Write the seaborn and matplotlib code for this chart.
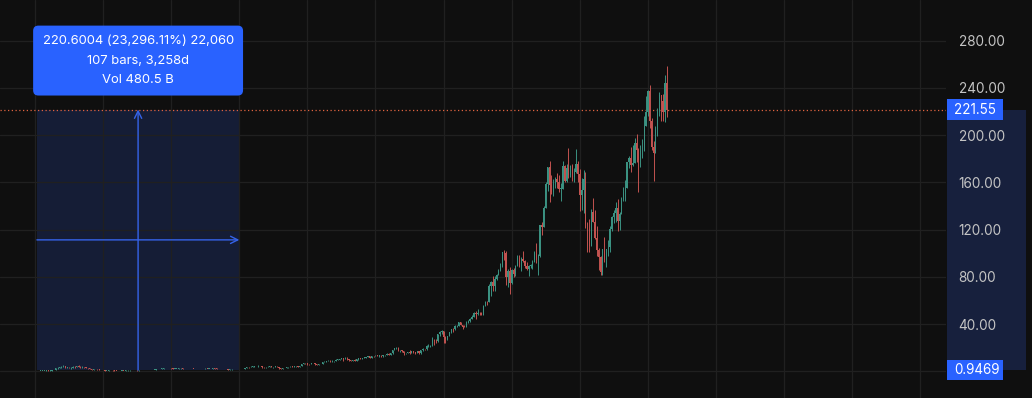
import numpy as np
import pandas as pd
import matplotlib
matplotlib.use("Agg")
import matplotlib.pyplot as plt
import seaborn as sns
from matplotlib.patches import Rectangle
from matplotlib.transforms import blended_transform_factory

# ---------------- data (monthly candles, May 1997 .. Nov 2025) ----------------
first_open = 0.08
close = [
    0.10, 0.10, 0.13, 0.17, 0.24, 0.23, 0.22, 0.25,                                  # 1997 May-Dec
    0.24, 0.30, 0.36, 0.40, 0.42, 0.61, 0.95, 0.62, 0.67, 0.81, 1.42, 2.68,          # 1998
    2.95, 3.10, 3.65, 4.60, 3.00, 3.10, 2.80, 3.20, 4.00, 3.50, 4.40, 3.81,          # 1999
    3.23, 3.44, 3.35, 2.76, 2.42, 1.82, 1.51, 2.08, 1.92, 1.83, 1.22, 0.78,          # 2000
    0.87, 0.51, 0.51, 0.79, 0.83, 0.71, 0.62, 0.45, 0.30, 0.35, 0.57, 0.54,          # 2001
    0.71, 0.71, 0.72, 0.83, 0.91, 0.81, 0.72, 0.75, 0.80, 0.97, 1.17, 0.94,          # 2002
    1.09, 1.10, 1.30, 1.43, 1.79, 1.82, 2.08, 2.32, 2.42, 2.72, 2.71, 2.63,          # 2003
    2.52, 2.15, 2.16, 2.18, 2.43, 2.72, 1.95, 1.91, 2.04, 1.71, 1.98, 2.21,          # 2004
    2.16, 1.76, 1.71, 1.62, 1.78, 1.65, 2.26, 2.14, 2.27, 1.99, 2.42, 2.36,          # 2005
    2.24, 1.87, 1.83, 1.76, 1.73, 1.93, 1.34, 1.54, 1.61, 1.90, 2.02, 1.97,          # 2006
    1.88, 1.96, 1.99, 3.07, 3.46, 3.42, 3.93, 4.00, 4.66, 4.46, 4.53, 4.63,          # 2007
    3.89, 3.22, 3.57, 3.93, 4.08, 3.67, 3.82, 4.04, 3.64, 2.86, 2.14, 2.56,          # 2008
    2.94, 3.24, 3.67, 4.03, 3.90, 4.18, 4.29, 4.06, 4.67, 5.94, 6.80, 6.73,          # 2009
    6.27, 5.92, 6.79, 6.86, 6.27, 5.46, 5.89, 6.24, 7.85, 8.26, 8.77, 9.00,          # 2010
    8.48, 8.66, 9.01, 9.83, 9.83, 10.22, 11.13, 10.76, 10.81, 10.68, 9.61, 8.65,     # 2011
    9.72, 8.98, 10.13, 11.60, 10.65, 11.42, 11.67, 12.41, 12.72, 11.64, 12.60, 12.54,  # 2012
    13.28, 13.21, 13.32, 12.69, 13.46, 13.88, 15.06, 14.05, 15.63, 18.20, 19.68, 19.94,  # 2013
    17.93, 18.11, 16.82, 15.21, 15.63, 16.24, 15.65, 16.95, 16.12, 15.27, 16.93, 15.52,  # 2014
    17.73, 19.01, 18.61, 21.09, 21.46, 21.70, 26.81, 25.64, 25.59, 31.30, 33.24, 33.79,  # 2015
    29.35, 27.63, 29.68, 32.98, 36.14, 35.78, 37.94, 38.46, 41.87, 39.49, 37.53, 37.49,  # 2016
    41.17, 42.25, 44.33, 46.25, 49.73, 48.40, 49.39, 49.03, 48.07, 55.26, 58.84, 58.47,  # 2017
    72.54, 75.62, 72.37, 78.31, 81.48, 84.99, 88.87, 100.64, 100.15, 79.90, 84.51, 75.10,  # 2018
    85.94, 81.99, 89.04, 96.33, 88.75, 94.68, 93.34, 88.81, 86.80, 88.83, 90.04, 92.39,  # 2019
    100.44, 94.19, 97.49, 123.70, 122.12, 137.94, 158.23, 172.55, 157.44, 151.81, 158.40, 162.85,  # 2020
    160.31, 154.65, 154.70, 173.37, 161.15, 172.01, 166.38, 173.54, 164.25, 168.62, 175.35, 166.72,  # 2021
    149.57, 153.56, 163.00, 124.28, 120.21, 106.21, 134.95, 126.77, 113.00, 102.44, 96.54, 84.00,  # 2022
    103.13, 94.23, 103.29, 105.45, 120.58, 130.36, 133.68, 138.01, 127.12, 133.09, 146.09, 151.94,  # 2023
    155.20, 176.76, 180.38, 175.00, 176.44, 193.25, 186.98, 178.50, 186.33, 186.40, 207.89, 219.39,  # 2024
    237.68, 212.28, 190.26, 184.42, 205.01, 219.39, 234.11, 229.00, 219.57, 244.22, 221.55,  # 2025 Jan-Nov
]
high = [
    0.12, 0.11, 0.14, 0.18, 0.26, 0.26, 0.27, 0.27,
    0.27, 0.31, 0.37, 0.45, 0.44, 0.63, 1.20, 0.96, 0.72, 0.84, 1.50, 2.90,
    3.70, 3.40, 4.20, 5.53, 4.60, 3.60, 3.40, 3.40, 4.20, 4.20, 4.80, 5.66,
    4.55, 4.20, 3.80, 3.40, 2.80, 2.55, 1.90, 2.14, 2.30, 1.98, 1.84, 1.25,
    0.90, 0.87, 0.60, 0.86, 0.92, 0.89, 0.80, 0.65, 0.46, 0.41, 0.59, 0.63,
    0.74, 0.77, 0.83, 0.88, 0.99, 0.93, 0.85, 0.81, 0.85, 1.04, 1.24, 1.22,
    1.26, 1.14, 1.35, 1.50, 1.81, 2.01, 2.21, 2.40, 2.64, 3.05, 2.87, 2.81,
    2.86, 2.57, 2.28, 2.34, 2.48, 2.82, 2.73, 1.99, 2.14, 2.09, 2.06, 2.27,
    2.24, 2.14, 1.84, 1.71, 1.83, 1.84, 2.40, 2.33, 2.37, 2.29, 2.50, 2.52,
    2.43, 2.27, 1.90, 1.91, 1.79, 1.98, 1.95, 1.56, 1.69, 1.95, 2.11, 2.10,
    2.11, 2.08, 2.09, 3.11, 3.69, 3.68, 4.19, 4.12, 4.69, 4.89, 4.92, 4.83,
    4.81, 3.97, 3.92, 4.17, 4.29, 4.18, 3.88, 4.38, 4.25, 3.64, 3.03, 2.80,
    3.02, 3.44, 3.95, 4.12, 4.21, 4.35, 4.50, 4.31, 4.77, 6.05, 6.80, 7.30,
    6.81, 6.29, 6.92, 7.28, 6.99, 6.46, 6.13, 6.40, 8.05, 8.52, 8.89, 9.23,
    9.24, 9.18, 9.04, 10.00, 10.28, 10.22, 11.38, 11.23, 12.23, 11.82, 10.76, 9.65,
    9.88, 9.99, 10.26, 11.60, 11.60, 11.47, 11.90, 12.52, 13.00, 12.97, 12.64, 13.00,
    14.20, 13.70, 13.80, 13.80, 13.78, 14.20, 15.40, 15.30, 15.90, 18.40, 19.80, 20.40,
    20.40, 18.40, 18.20, 17.10, 15.80, 16.75, 18.10, 17.30, 17.30, 16.30, 17.00, 17.60,
    17.90, 19.50, 19.20, 21.90, 22.80, 22.00, 28.70, 27.00, 27.20, 31.70, 34.00, 34.70,
    34.00, 29.60, 30.30, 33.20, 36.20, 36.60, 38.80, 38.80, 42.10, 41.90, 39.30, 39.00,
    42.20, 43.10, 44.70, 47.80, 50.10, 51.30, 52.60, 49.80, 50.00, 56.10, 59.80, 59.70,
    73.60, 76.60, 80.40, 80.40, 82.50, 86.30, 91.50, 101.30, 102.50, 101.70, 86.90, 87.90,
    86.80, 87.60, 90.00, 98.20, 98.10, 96.70, 101.70, 93.90, 92.50, 90.00, 91.10, 94.60,
    101.80, 108.70, 99.00, 123.80, 126.30, 139.80, 160.60, 172.60, 177.60, 166.20, 162.60, 164.50,
    168.20, 166.50, 159.80, 177.70, 174.70, 175.70, 188.70, 174.80, 175.20, 171.70, 188.10, 177.90,
    171.40, 163.80, 170.80, 168.40, 126.20, 128.99, 137.70, 146.60, 136.50, 123.00, 104.60, 97.20,
    103.50, 114.00, 103.50, 110.90, 122.90, 131.50, 136.70, 143.60, 145.90, 134.50, 147.30, 155.60,
    161.70, 177.20, 182.00, 189.80, 191.70, 197.20, 201.20, 189.00, 191.90, 196.90, 215.90, 233.00,
    238.00, 242.50, 214.00, 195.00, 208.00, 223.30, 236.50, 234.10, 235.00, 250.50, 258.60,
]
low = [
    0.07, 0.08, 0.09, 0.12, 0.16, 0.19, 0.20, 0.20,
    0.20, 0.22, 0.29, 0.34, 0.38, 0.40, 0.60, 0.60, 0.50, 0.56, 0.80, 1.40,
    2.20, 2.50, 2.80, 3.60, 2.90, 2.60, 2.60, 2.20, 3.00, 3.20, 3.40, 3.60,
    3.00, 3.00, 2.78, 2.50, 2.10, 1.65, 1.40, 1.47, 1.72, 1.30, 1.12, 0.75,
    0.68, 0.49, 0.43, 0.42, 0.71, 0.65, 0.52, 0.42, 0.28, 0.28, 0.33, 0.46,
    0.50, 0.64, 0.64, 0.70, 0.78, 0.75, 0.55, 0.66, 0.69, 0.71, 0.93, 0.91,
    0.94, 1.00, 1.02, 1.26, 1.41, 1.71, 1.75, 2.03, 2.28, 2.41, 2.56, 2.46,
    2.35, 2.12, 1.99, 2.07, 2.10, 2.35, 1.90, 1.81, 1.84, 1.62, 1.66, 1.93,
    1.99, 1.70, 1.63, 1.55, 1.59, 1.62, 1.65, 2.08, 2.10, 1.94, 1.98, 2.26,
    2.19, 1.80, 1.77, 1.71, 1.65, 1.64, 1.33, 1.28, 1.47, 1.57, 1.86, 1.90,
    1.86, 1.82, 1.85, 1.95, 3.02, 3.13, 3.27, 3.62, 3.95, 4.12, 3.88, 4.38,
    3.19, 3.10, 3.02, 3.55, 3.93, 3.63, 3.15, 3.78, 3.32, 2.37, 1.73, 2.12,
    2.40, 2.82, 3.04, 3.59, 3.75, 3.86, 3.90, 3.91, 3.90, 4.40, 5.90, 6.32,
    5.73, 5.52, 5.91, 6.69, 5.70, 5.39, 5.25, 5.76, 6.23, 7.50, 8.13, 8.68,
    8.13, 8.22, 8.01, 8.99, 9.54, 9.26, 10.08, 8.81, 10.15, 9.78, 9.05, 8.41,
    8.66, 8.90, 8.99, 9.42, 10.50, 10.40, 10.85, 11.56, 12.20, 11.10, 11.35, 12.06,
    12.65, 12.60, 12.40, 12.05, 12.50, 13.00, 13.50, 13.95, 14.00, 15.00, 17.90, 19.30,
    17.40, 16.60, 16.30, 14.10, 14.70, 15.10, 14.90, 15.50, 15.70, 14.30, 15.10, 14.30,
    14.30, 17.60, 18.00, 18.30, 20.80, 20.90, 21.70, 22.40, 24.00, 25.10, 30.00, 31.30,
    24.30, 23.60, 26.30, 29.60, 32.80, 33.30, 35.10, 37.60, 38.20, 38.90, 35.50, 37.10,
    37.50, 40.80, 41.90, 44.40, 47.00, 44.10, 47.70, 47.30, 47.70, 47.50, 55.00, 55.80,
    58.50, 63.90, 68.00, 67.90, 77.50, 81.20, 85.60, 88.00, 94.00, 73.30, 71.20, 65.40,
    74.00, 80.20, 80.50, 89.80, 88.20, 84.90, 92.30, 87.80, 86.10, 80.80, 87.40, 87.00,
    92.50, 91.80, 81.30, 96.80, 115.00, 121.80, 139.50, 152.70, 143.60, 150.00, 148.40, 155.50,
    155.40, 152.00, 144.10, 155.20, 160.20, 160.10, 163.90, 164.40, 161.00, 160.00, 167.60, 160.20,
    135.40, 136.40, 133.60, 121.60, 101.30, 101.30, 105.90, 126.40, 112.10, 97.70, 85.90, 81.40,
    81.70, 92.90, 88.10, 97.70, 101.20, 118.70, 125.90, 126.40, 118.40, 119.60, 133.70, 143.80,
    144.10, 155.60, 172.50, 168.50, 173.80, 178.00, 176.80, 151.60, 172.70, 180.40, 194.70, 208.00,
    216.00, 206.20, 187.50, 161.40, 184.90, 199.30, 216.20, 212.20, 212.00, 211.00, 215.40,
]
start_month = "1997-05"

# measure tool
measure_start_bar, measure_end_bar = 1, 108     # months after Jan 1998
measure_low, measure_high = 0.9469, 221.55
measure_text = "220.6004 (23,296.11%) 22,060\n107 bars, 3,258d\nVol 480.5 B"
last_price = 221.55

price_ticks = [0, 40, 80, 120, 160, 200, 240, 280]
grid_months = list(range(0, 469, 36))

# ---------------- build frame ----------------
dates = pd.date_range(start_month, periods=len(close), freq="MS")
df = pd.DataFrame({"date": dates, "close": close, "high": high, "low": low})
df["open"] = [first_open] + close[:-1]
df["x"] = (df["date"].dt.year - 1998) * 12 + (df["date"].dt.month - 1)
df["up"] = df["close"] >= df["open"]

# ---------------- style ----------------
BG = "#0f0f0f"
sns.set_theme(style="dark", rc={"axes.facecolor": BG, "figure.facecolor": BG,
                                "savefig.facecolor": BG})
plt.rcParams["font.family"] = ["Inter", "DejaVu Sans"]

UP, DOWN = "#3b9282", "#c25350"
BLUE = "#2962ff"
SHADE = "#17203d"
W, H = 1032, 398
fig = plt.figure(figsize=(W / 100, H / 100), dpi=100)
ax = fig.add_axes([0, 0, 946 / W, 1])
ax.set_facecolor(BG)

# grid
for p in price_ticks:
    ax.axhline(p, color="#202020", lw=0.9, zorder=2)
for m in grid_months:
    ax.axvline(m, color="#202020", lw=0.9, zorder=2)

# candles
cols = np.where(df["up"], UP, DOWN)
wick_lo = np.minimum(df["low"], np.minimum(df["open"], df["close"]))
wick_hi = np.maximum(df["high"], np.maximum(df["open"], df["close"]))
ax.vlines(df["x"], wick_lo, wick_hi, colors=cols, lw=0.7, zorder=3)
body_lo = np.minimum(df["open"], df["close"])
body_h = np.maximum(np.abs(df["close"] - df["open"]), 0.35)
ax.bar(df["x"], body_h, bottom=body_lo, width=0.62, color=cols, linewidth=0, zorder=3)

# measurement rectangle
ax.add_patch(Rectangle((measure_start_bar, measure_low), measure_end_bar - measure_start_bar,
                       measure_high - measure_low, facecolor=SHADE, alpha=0.85,
                       edgecolor="none", zorder=1))
mid_x = (measure_start_bar + measure_end_bar) / 2
mid_y = (measure_low + measure_high) / 2
arrow_kw = dict(arrowstyle="->", color="#3563e9", lw=1.0, mutation_scale=13,
                shrinkA=0, shrinkB=0)
ax.annotate("", xy=(mid_x, measure_high), xytext=(mid_x, measure_low), arrowprops=arrow_kw, zorder=4)
ax.annotate("", xy=(measure_end_bar, mid_y), xytext=(measure_start_bar, mid_y), arrowprops=arrow_kw, zorder=4)

# tooltip
ax.annotate(measure_text, xy=(mid_x, measure_high), xytext=(0, 49), textcoords="offset pixels",
            ha="center", va="center", ma="center", color="white", fontsize=9.4,
            linespacing=1.84, zorder=6,
            bbox=dict(boxstyle="round,pad=0.72,rounding_size=0.4", fc=BLUE, ec="none"))

# last price line
ax.axhline(last_price, color="#e0633f", lw=0.9, ls=(0, (1, 2)), zorder=2)

ax.set_xlim(-18.5, 481.6)
ax.set_ylim(-22.6, 314.3)
ax.set_xticks([])
ax.yaxis.tick_right()
ax.set_yticks(price_ticks)
ax.set_yticklabels([""] + [f"{p:.2f}" for p in price_ticks[1:]])
ax.tick_params(axis="y", length=0, pad=9, labelcolor="#c4c4c4", labelsize=9.8)
for s in ax.spines.values():
    s.set_visible(False)
ax.grid(False)

# price-axis band and labels
tr = blended_transform_factory(fig.transFigure, ax.transData)
ax.add_patch(Rectangle((947 / W, measure_low), 79 / W, measure_high - measure_low, transform=tr,
                       facecolor=SHADE, edgecolor="none", clip_on=False, zorder=0.5))
for val, txt in [(measure_high, "221.55"), (measure_low, "0.9469")]:
    ax.add_patch(Rectangle((947 / W, val - 8.6), 56 / W, 17.2, transform=tr,
                           facecolor=BLUE, edgecolor="none", clip_on=False, zorder=8))
    ax.text(954 / W, val, txt, transform=tr, ha="left", va="center", color="white",
            fontsize=9.7, zorder=9, clip_on=False)

fig.savefig("out.png", dpi=100, facecolor=BG)
